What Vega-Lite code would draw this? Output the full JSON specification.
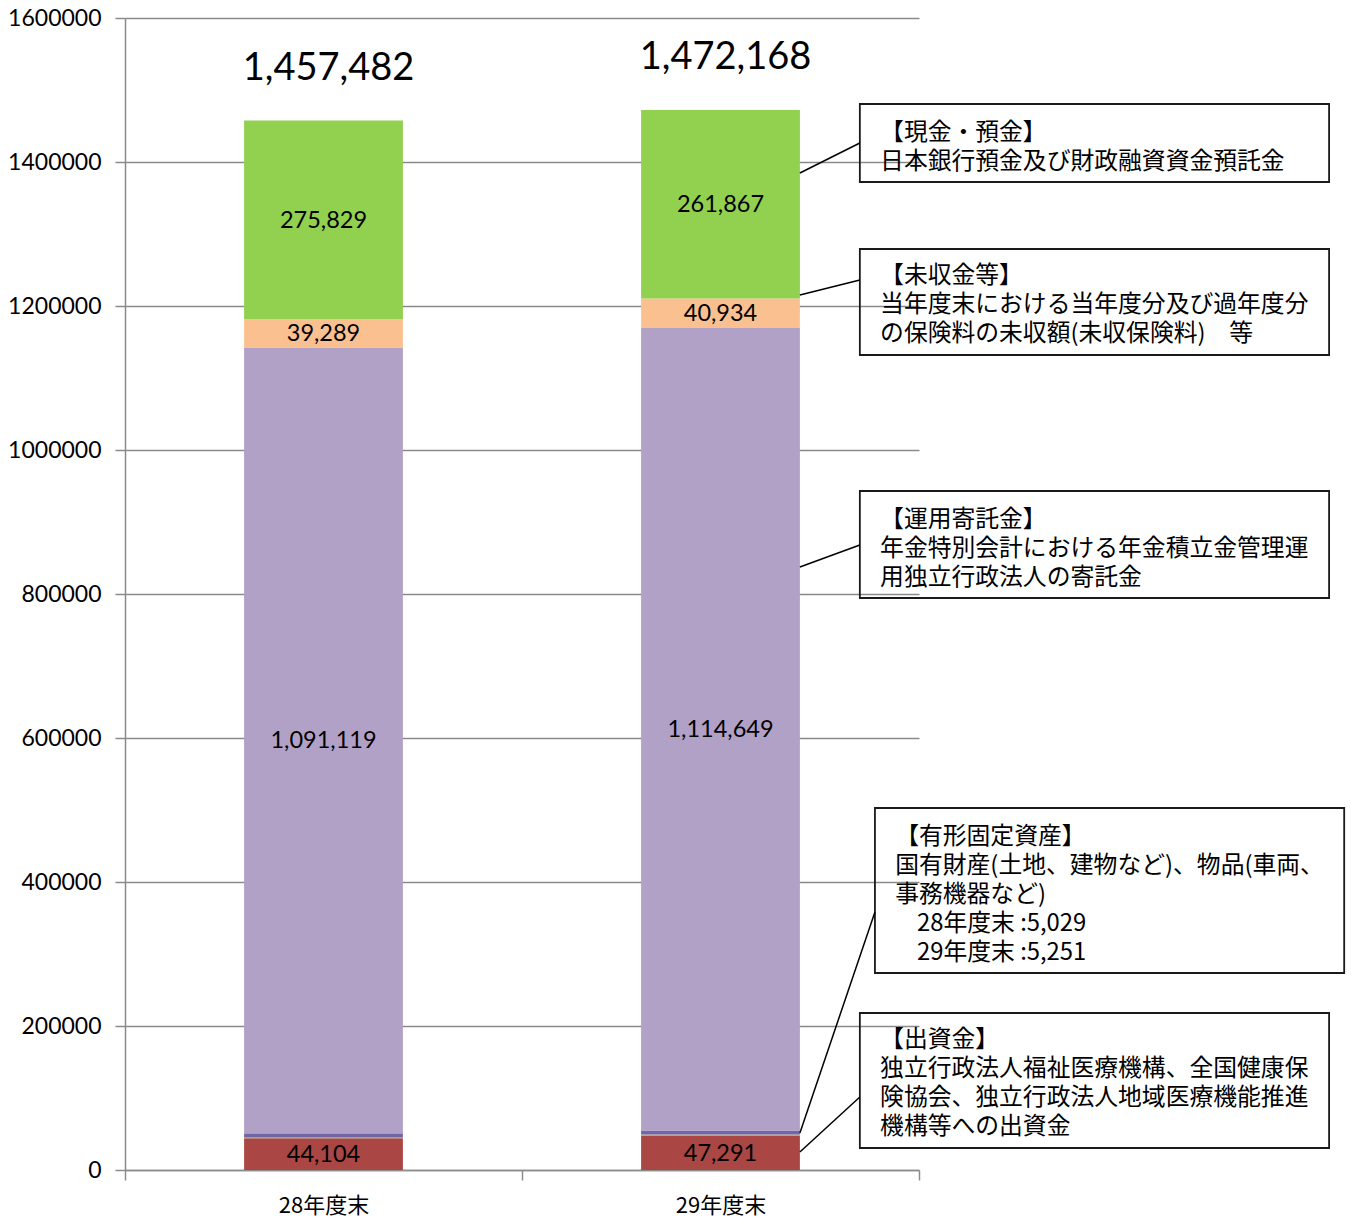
{
  "$schema": "https://vega.github.io/schema/vega-lite/v6.json",
  "autosize": "none",
  "width": 794,
  "height": 1152,
  "padding": {"left": 125, "top": 18, "right": 432, "bottom": 48},
  "background": "white",
  "config": {"view": {"stroke": null}},
  "resolve": {"scale": {"x": "independent"}, "axis": {"x": "independent"}},
  "layer": [
    {
      "data": {"values": [
        {"year": "28年度末", "item": "出資金", "value": 44104, "ord": 1},
        {"year": "28年度末", "item": "その他1", "value": 1100, "ord": 2},
        {"year": "28年度末", "item": "有形固定資産", "value": 5029, "ord": 3},
        {"year": "28年度末", "item": "その他2", "value": 1012, "ord": 4},
        {"year": "28年度末", "item": "運用寄託金", "value": 1091119, "ord": 5},
        {"year": "28年度末", "item": "未収金等", "value": 39289, "ord": 6},
        {"year": "28年度末", "item": "現金・預金", "value": 275829, "ord": 7},
        {"year": "29年度末", "item": "出資金", "value": 47291, "ord": 1},
        {"year": "29年度末", "item": "その他1", "value": 2176, "ord": 2},
        {"year": "29年度末", "item": "有形固定資産", "value": 5251, "ord": 3},
        {"year": "29年度末", "item": "その他2", "value": 0, "ord": 4},
        {"year": "29年度末", "item": "運用寄託金", "value": 1114649, "ord": 5},
        {"year": "29年度末", "item": "未収金等", "value": 40934, "ord": 6},
        {"year": "29年度末", "item": "現金・預金", "value": 261867, "ord": 7}
      ]},
      "layer": [
        {
          "mark": {"type": "bar", "width": {"band": 0.4}},
          "encoding": {
            "x": {"field": "year", "type": "nominal",
              "scale": {"type": "band", "domain": ["28年度末", "29年度末"], "paddingInner": 0, "paddingOuter": 0},
              "axis": {"title": null, "labelAngle": 0, "labelFont": "Noto Sans CJK JP", "labelFontSize": 22, "labelColor": "#000000",
                "labelPadding": 15, "domainColor": "#8c8c8c", "domainWidth": 1.5, "tickColor": "#8c8c8c", "tickWidth": 1.5,
                "tickSize": 10, "tickBand": "extent", "grid": false}},
            "y": {"field": "value", "type": "quantitative", "stack": "zero",
              "scale": {"domain": [0, 1600000], "nice": false},
              "axis": {"title": null, "values": [0, 200000, 400000, 600000, 800000, 1000000, 1200000, 1400000, 1600000],
                "format": "d", "labelFont": "Lato", "labelFontSize": 23, "labelColor": "#000000", "labelPadding": 14,
                "grid": true, "gridColor": "#8a8a8a", "gridWidth": 1.5, "domainColor": "#8a8a8a", "domainWidth": 1.5,
                "tickColor": "#8a8a8a", "tickWidth": 1.5, "tickSize": 10}},
            "color": {"field": "item", "type": "nominal", "legend": null,
              "scale": {"domain": ["出資金", "その他1", "有形固定資産", "その他2", "運用寄託金", "未収金等", "現金・預金"],
                "range": ["#AA4643", "#A8B07A", "#7267A6", "#4BACC6", "#B2A1C7", "#FAC090", "#92D050"]}},
            "order": {"field": "ord", "type": "quantitative"}
          }
        },
        {
          "mark": {"type": "text", "font": "Lato", "fontSize": 23.5, "color": "#000000", "baseline": "middle", "align": "center", "dy": 1},
          "encoding": {
            "x": {"field": "year", "type": "nominal",
              "scale": {"type": "band", "domain": ["28年度末", "29年度末"], "paddingInner": 0, "paddingOuter": 0}},
            "y": {"field": "value", "type": "quantitative", "stack": "zero", "bandPosition": 0.5},
            "text": {"condition": {"test": "datum.value < 10000", "value": ""}, "field": "value", "type": "quantitative", "format": ","},
            "order": {"field": "ord", "type": "quantitative"}
          }
        },
        {
          "data": {"values": [
            {"year": "28年度末", "total": 1457482},
            {"year": "29年度末", "total": 1472168}
          ]},
          "mark": {"type": "text", "font": "Lato", "fontSize": 38, "color": "#000000", "baseline": "middle", "align": "center", "dy": -52, "dx": 5},
          "encoding": {
            "x": {"field": "year", "type": "nominal",
              "scale": {"type": "band", "domain": ["28年度末", "29年度末"], "paddingInner": 0, "paddingOuter": 0}},
            "y": {"field": "total", "type": "quantitative"},
            "text": {"field": "total", "type": "quantitative", "format": ","}
          }
        }
      ]
    },
    {
      "data": {"values": [{}]},
      "layer": [
        {"mark": {"type": "rect", "fill": "transparent", "stroke": "#1a1a1a", "strokeWidth": 1.8},
         "encoding": {"x": {"datum": 1.851, "type": "quantitative", "scale": {"domain": [0, 2], "nice": false, "zero": false}, "axis": null},
           "x2": {"datum": 3.033}, "y": {"datum": 1480556, "type": "quantitative"}, "y2": {"datum": 1372222}}},
        {"mark": {"type": "rect", "fill": "transparent", "stroke": "#1a1a1a", "strokeWidth": 1.8},
         "encoding": {"x": {"datum": 1.851, "type": "quantitative"},
           "x2": {"datum": 3.033}, "y": {"datum": 1279167, "type": "quantitative"}, "y2": {"datum": 1131944}}},
        {"mark": {"type": "rect", "fill": "transparent", "stroke": "#1a1a1a", "strokeWidth": 1.8},
         "encoding": {"x": {"datum": 1.851, "type": "quantitative"},
           "x2": {"datum": 3.033}, "y": {"datum": 943056, "type": "quantitative"}, "y2": {"datum": 794444}}},
        {"mark": {"type": "rect", "fill": "transparent", "stroke": "#1a1a1a", "strokeWidth": 1.8},
         "encoding": {"x": {"datum": 1.889, "type": "quantitative"},
           "x2": {"datum": 3.071}, "y": {"datum": 502778, "type": "quantitative"}, "y2": {"datum": 273611}}},
        {"mark": {"type": "rect", "fill": "transparent", "stroke": "#1a1a1a", "strokeWidth": 1.8},
         "encoding": {"x": {"datum": 1.851, "type": "quantitative"},
           "x2": {"datum": 3.033}, "y": {"datum": 218056, "type": "quantitative"}, "y2": {"datum": 30556}}},

        {"mark": {"type": "rule", "color": "#000000", "strokeWidth": 1.5},
         "encoding": {"x": {"datum": 1.700, "type": "quantitative"}, "x2": {"datum": 1.851},
           "y": {"datum": 1384722, "type": "quantitative"}, "y2": {"datum": 1426389}}},
        {"mark": {"type": "rule", "color": "#000000", "strokeWidth": 1.5},
         "encoding": {"x": {"datum": 1.700, "type": "quantitative"}, "x2": {"datum": 1.851},
           "y": {"datum": 1215278, "type": "quantitative"}, "y2": {"datum": 1236111}}},
        {"mark": {"type": "rule", "color": "#000000", "strokeWidth": 1.5},
         "encoding": {"x": {"datum": 1.700, "type": "quantitative"}, "x2": {"datum": 1.851},
           "y": {"datum": 837500, "type": "quantitative"}, "y2": {"datum": 868056}}},
        {"mark": {"type": "rule", "color": "#000000", "strokeWidth": 1.5},
         "encoding": {"x": {"datum": 1.700, "type": "quantitative"}, "x2": {"datum": 1.889},
           "y": {"datum": 51389, "type": "quantitative"}, "y2": {"datum": 358333}}},
        {"mark": {"type": "rule", "color": "#000000", "strokeWidth": 1.5},
         "encoding": {"x": {"datum": 1.700, "type": "quantitative"}, "x2": {"datum": 1.851},
           "y": {"datum": 25000, "type": "quantitative"}, "y2": {"datum": 101389}}},

        {"mark": {"type": "text", "font": "Noto Sans CJK JP", "fontSize": 23.8, "lineHeight": 29, "align": "left", "baseline": "top", "color": "#000000",
           "text": ["【現金・預金】", "日本銀行預金及び財政融資資金預託金"]},
         "encoding": {"x": {"datum": 1.902, "type": "quantitative"}, "y": {"datum": 1456944, "type": "quantitative"}}},
        {"mark": {"type": "text", "font": "Noto Sans CJK JP", "fontSize": 23.8, "lineHeight": 29, "align": "left", "baseline": "top", "color": "#000000",
           "text": ["【未収金等】", "当年度末における当年度分及び過年度分", "の保険料の未収額(未収保険料)　等"]},
         "encoding": {"x": {"datum": 1.902, "type": "quantitative"}, "y": {"datum": 1258333, "type": "quantitative"}}},
        {"mark": {"type": "text", "font": "Noto Sans CJK JP", "fontSize": 23.8, "lineHeight": 29, "align": "left", "baseline": "top", "color": "#000000",
           "text": ["【運用寄託金】", "年金特別会計における年金積立金管理運", "用独立行政法人の寄託金"]},
         "encoding": {"x": {"datum": 1.902, "type": "quantitative"}, "y": {"datum": 919444, "type": "quantitative"}}},
        {"mark": {"type": "text", "font": "Noto Sans CJK JP", "fontSize": 23.8, "lineHeight": 29, "align": "left", "baseline": "top", "color": "#000000",
           "text": ["【有形固定資産】", "国有財産(土地、建物など)、物品(車両、", "事務機器など)"]},
         "encoding": {"x": {"datum": 1.940, "type": "quantitative"}, "y": {"datum": 479166, "type": "quantitative"}}},
        {"mark": {"type": "text", "font": "Noto Sans CJK JP", "fontSize": 23.8, "lineHeight": 29, "align": "left", "baseline": "top", "color": "#000000",
           "text": ["28年度末 :5,029", "29年度末 :5,251"]},
         "encoding": {"x": {"datum": 1.995, "type": "quantitative"}, "y": {"datum": 358333, "type": "quantitative"}}},
        {"mark": {"type": "text", "font": "Noto Sans CJK JP", "fontSize": 23.8, "lineHeight": 29, "align": "left", "baseline": "top", "color": "#000000",
           "text": ["【出資金】", "独立行政法人福祉医療機構、全国健康保", "険協会、独立行政法人地域医療機能推進", "機構等への出資金"]},
         "encoding": {"x": {"datum": 1.902, "type": "quantitative"}, "y": {"datum": 197222, "type": "quantitative"}}}
      ]
    }
  ]
}
